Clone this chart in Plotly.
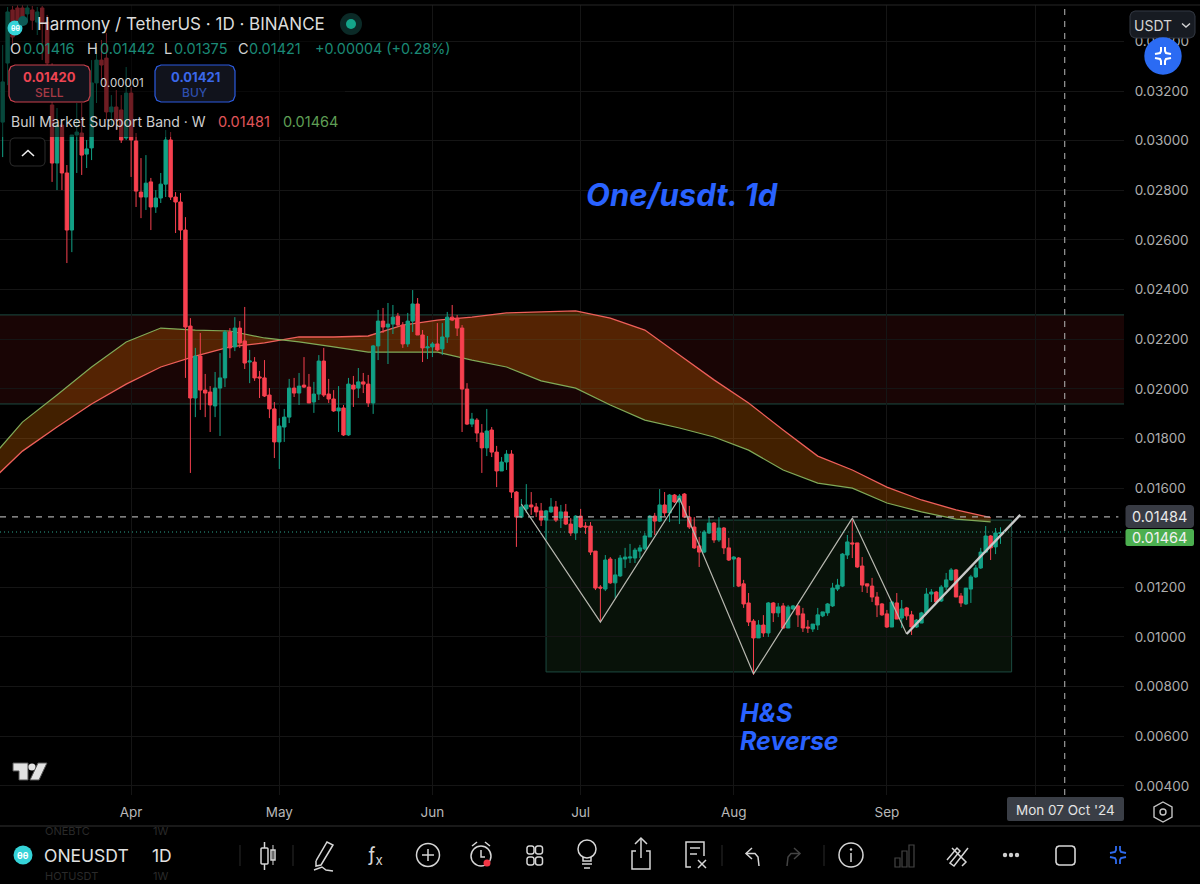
import numpy as np
import pandas as pd
import plotly.graph_objects as go

# prices, in units of 0.00001
opens_e5 = [
    3075,3313,3527,3535,3535,3511,3527,3478,3535,3478,
    3144,2910,3063,2870,2640,3023,3031,2946,2971,3233,
    3325,3333,3116,3136,3124,3011,3192,2999,2793,2773,
    2834,2733,2769,2825,3003,2773,2753,2640,2253,1963,
    2132,1995,1987,1931,2003,2044,2229,2169,2245,2193,
    2108,2108,2048,2044,1975,1919,1786,1846,1886,2003,
    1983,2015,2007,1947,1979,2112,1979,1959,1911,1923,
    1814,2015,2003,2028,2019,1943,2173,2273,2249,2261,
    2293,2257,2181,2273,2342,2217,2165,2169,2181,2161,
    2209,2289,2285,2245,1999,1858,1874,1822,1762,1834,
    1745,1669,1705,1737,1584,1483,1516,1532,1524,1508,
    1471,1504,1524,1479,1504,1455,1419,1487,1447,1447,
    1346,1201,1193,1314,1218,1246,1314,1318,1318,1346,
    1355,1403,1487,1467,1532,1500,1572,1544,1576,1483,
    1443,1367,1342,1419,1459,1391,1439,1359,1314,1318,
    1214,1137,1064,996,1048,1016,1137,1097,1125,1036,
    1113,1125,1093,1040,1032,1048,1085,1097,1125,1193,
    1205,1330,1379,1379,1286,1214,1205,1161,1133,1093,
    1040,1137,1076,1117,1089,1040,1056,1097,1173,1181,
    1145,1201,1230,1270,1165,1133,1193,1242,1278,1342,
    1407,1363,1416]
highs_e5 = [
    3386,3539,3543,3547,3547,3547,3543,3539,3543,3507,
    3313,3132,3075,2902,3023,3152,3152,3003,3325,3378,
    3406,3434,3184,3204,3184,3297,3216,3031,2930,2942,
    2850,2801,2870,3043,3035,2793,2789,2692,2285,2165,
    2225,2060,2011,2068,2144,2237,2245,2289,2273,2330,
    2157,2128,2072,2116,2003,1947,1882,1919,2040,2044,
    2064,2128,2060,2028,2136,2165,2040,1995,2011,1935,
    2044,2052,2084,2064,2056,2177,2318,2326,2346,2338,
    2306,2269,2306,2398,2366,2237,2213,2189,2265,2265,
    2310,2338,2298,2257,2023,1903,1882,1858,1919,1846,
    1770,1725,1753,1753,1588,1556,1616,1584,1540,1540,
    1512,1560,1548,1532,1536,1479,1491,1516,1463,1463,
    1346,1209,1330,1322,1314,1330,1359,1375,1359,1371,
    1419,1491,1500,1596,1584,1576,1576,1576,1580,1528,
    1483,1403,1431,1483,1463,1483,1443,1399,1326,1322,
    1230,1177,1072,1068,1088,1141,1141,1137,1137,1129,
    1129,1129,1117,1068,1052,1117,1101,1137,1218,1234,
    1338,1411,1471,1379,1322,1214,1238,1181,1137,1109,
    1145,1177,1149,1121,1105,1072,1101,1197,1193,1185,
    1209,1258,1278,1274,1177,1197,1250,1290,1359,1447,
    1411,1439,1442]
lows_e5 = [
    2934,3224,3357,3454,3462,3478,3446,3426,3325,3224,
    2834,2801,2801,2507,2551,2870,2862,2890,2922,3152,
    3245,3083,3063,3043,2991,3003,2854,2733,2688,2721,
    2640,2709,2749,2773,2761,2628,2600,2044,1661,1886,
    1915,1886,1826,1886,1810,2007,2124,2152,2165,2080,
    2023,2032,1963,1967,1882,1721,1677,1786,1862,1967,
    1935,2003,1943,1903,1955,1967,1943,1907,1826,1810,
    1810,1927,1963,1983,1927,1899,2116,2225,2100,2221,
    2253,2165,2169,2229,2217,2108,2120,2128,2152,2136,
    2185,2273,2213,1826,1854,1846,1786,1661,1729,1725,
    1604,1669,1673,1560,1363,1479,1500,1492,1483,1447,
    1391,1500,1463,1439,1451,1407,1391,1439,1415,1330,
    1189,1060,1185,1214,1157,1242,1278,1298,1298,1318,
    1350,1403,1411,1463,1487,1463,1540,1455,1479,1435,
    1355,1282,1338,1415,1379,1383,1334,1306,1201,1201,
    1117,1044,847,996,1000,1000,1060,1080,1032,1036,
    1109,1040,1020,1016,1020,1028,1080,1085,1121,1185,
    1201,1314,1318,1278,1181,1177,1141,1080,1085,1036,
    1040,1072,1036,1068,1008,1036,1056,1089,1141,1137,
    1141,1189,1226,1161,1121,1129,1137,1238,1274,1338,
    1310,1334,1375]
closes_e5 = [
    3237,3519,3418,3486,3494,3535,3486,3519,3478,3313,
    2910,3063,2870,2640,3023,3035,2942,2967,3233,3325,
    3305,3116,3136,3083,3003,3192,3003,2797,2773,2829,
    2733,2769,2825,3003,2773,2753,2640,2249,1963,2132,
    1995,1983,1935,2003,2044,2229,2165,2245,2185,2104,
    2112,2044,2044,1971,1919,1786,1850,1886,2003,1983,
    2011,2007,1943,1979,2112,1975,1959,1911,1923,1814,
    2019,1999,2028,2019,1943,2173,2273,2249,2261,2289,
    2257,2181,2273,2342,2217,2165,2169,2181,2157,2209,
    2289,2277,2245,1999,1858,1878,1822,1762,1830,1745,
    1669,1705,1737,1584,1483,1524,1532,1524,1504,1471,
    1508,1524,1471,1504,1455,1419,1487,1443,1443,1342,
    1197,1197,1310,1218,1250,1318,1322,1322,1350,1359,
    1407,1487,1467,1532,1500,1572,1544,1568,1483,1443,
    1359,1342,1423,1459,1391,1439,1359,1310,1322,1205,
    1133,1060,996,1048,1016,1137,1097,1121,1036,1121,
    1125,1089,1036,1036,1052,1089,1101,1133,1197,1209,
    1334,1383,1375,1282,1209,1205,1161,1129,1089,1040,
    1141,1072,1113,1085,1040,1068,1097,1173,1181,1141,
    1201,1230,1270,1161,1137,1197,1242,1278,1342,1407,
    1359,1419,1421]

# weekly support band
band_upper_e5 = [1616,1749,1846,1939,2019,2088,2132,2169,2185,2209,2209,2213,2257,2277,2289,
                 2306,2310,2314,2285,2237,2136,2036,1943,1834,1729,1673,1604,1552,1512,1481]
band_lower_e5 = [1705,1866,1975,2088,2189,2245,2237,2233,2205,2189,2169,2148,2148,2148,2116,
                 2088,2032,2003,1935,1874,1842,1806,1753,1673,1620,1600,1540,1504,1475,1464]

# head and shoulders drawing
pattern_dates = ["2024-06-19", "2024-07-05", "2024-07-21", "2024-08-05", "2024-08-25", "2024-09-05"]
pattern_prices = [0.01536, 0.01060, 0.01560, 0.00851, 0.01479, 0.01012]
neck_dates = ["2024-09-05", "2024-09-28"]
neck_prices = [0.01012, 0.01492]

zone_top, zone_bottom = 0.02298, 0.01939
box_start, box_end = "2024-06-24", "2024-09-26 06:00"
box_top, box_bottom = 0.01471, 0.00859
cross_price, cross_date = 0.01484, "2024-10-07"
last_price = 0.01423

price_ticks = [0.004, 0.006, 0.008, 0.010, 0.012, 0.016, 0.018, 0.020, 0.022,
               0.024, 0.026, 0.028, 0.030, 0.032, 0.034]
price_labels = ["0.00400", "0.00600", "0.00800", "0.01000", "0.01200", "0.01600", "0.01800",
                "0.02000", "0.02200", "0.02400", "0.02600", "0.02800", "0.03000", "0.03200", "0.03400"]
month_ticks = ["2024-04-01", "2024-05-01", "2024-06-01", "2024-07-01", "2024-08-01", "2024-09-01"]
month_labels = ["Apr", "May", "Jun", "Jul", "Aug", "Sep"]
# grid lines whose labels sit behind the tags
hidden_price_grid = [0.014]
hidden_month_grid = ["2024-10-01"]

dates = pd.date_range("2024-03-06", periods=len(opens_e5), freq="D")
band_dates = pd.date_range("2024-03-03", periods=len(band_upper_e5), freq="7D")

W, H = 1200, 884
L, R, T, B = 0, 76, 5, 89
Y_RANGE = [0.00363, 0.03547]
X_RANGE = ["2024-03-05 11:00", "2024-10-19 00:00"]

RED = "#f7404f"
GREEN = "#12a085"
BLUE = "#2962ff"
ICON = "#d6d6d6"
GRID = "#151515"
FONT = "Inter"

shapes = []
annots = []


def fx(px):
    return (px - L) / (W - L - R)


def fy(py):
    return (H - B - py) / (H - T - B)


def poly(pts, color=ICON, w=1.5, fill=None, close=False):
    d = "M" + " L".join(f"{fx(x):.5f} {fy(y):.5f}" for x, y in pts) + (" Z" if close else "")
    shapes.append(dict(type="path", path=d, xref="paper", yref="paper",
                       line=dict(color=color, width=w), fillcolor=fill or "rgba(0,0,0,0)"))


def box(x0, y0, x1, y1, fill=None, color=None, w=1, r=0):
    if r:
        c = r * 0.3
        pts = [(x0 + r, y0), (x1 - r, y0), (x1 - c, y0 + c), (x1, y0 + r), (x1, y1 - r), (x1 - c, y1 - c),
               (x1 - r, y1), (x0 + r, y1), (x0 + c, y1 - c), (x0, y1 - r), (x0, y0 + r), (x0 + c, y0 + c)]
        poly(pts, color or "rgba(0,0,0,0)", w if color else 0, fill, True)
    else:
        shapes.append(dict(type="rect", xref="paper", yref="paper", x0=fx(x0), x1=fx(x1), y0=fy(y0), y1=fy(y1),
                           fillcolor=fill or "rgba(0,0,0,0)", line=dict(color=color or "rgba(0,0,0,0)", width=w if color else 0)))


def dot(cx, cy, r, fill=None, color=None, w=1.5):
    shapes.append(dict(type="circle", xref="paper", yref="paper", x0=fx(cx - r), x1=fx(cx + r), y0=fy(cy - r), y1=fy(cy + r),
                       fillcolor=fill or "rgba(0,0,0,0)", line=dict(color=color or "rgba(0,0,0,0)", width=w if color else 0)))


def label(x, y, s, size, color, anchor="left", weight=400, style="normal"):
    annots.append(dict(x=fx(x), y=fy(y), xref="paper", yref="paper", text=s, showarrow=False, xanchor=anchor, yanchor="middle",
                       borderpad=0, font=dict(family=FONT, size=size, color=color, weight=weight, style=style)))


def corners(cx, cy, color, w=2):
    for sx in (-1, 1):
        for sy in (-1, 1):
            poly([(cx + sx * 2, cy + sy * 9), (cx + sx * 2, cy + sy * 5), (cx + sx * 3, cy + sy * 3), (cx + sx * 8, cy + sy * 2)], color, w)


# dimmed backdrop behind the legend block, then the frame lines
box(0, 5, 345, 137, fill="rgba(0,0,0,0.55)")
poly([(0, 5), (1200, 5)], "#262626", 1)
poly([(0, 826), (1200, 826)], "#333333", 1.2)

# legend block
dot(15, 28, 7.5, fill="#35d3d8")
label(15, 28, "θθ", 7, "#ffffff", "center", 700)
dot(23, 21, 5, fill="#0d5a55")
label(36, 24, "Harmony / TetherUS · 1D · BINANCE", 17, "#dcdcdc")
dot(351, 24, 11, fill="#0b2a27")
dot(351, 24, 5, fill="#14a58a")
val_color = "#1b8a76"
head_color = "#d2d2d2"
for hx, head, vx, val in ((9, "O", 22, "0.01416"), (86, "H", 99, "0.01442"), (163, "L", 173, "0.01375"), (237, "C", 248, "0.01421")):
    label(hx, 49, head, 14.5, head_color)
    label(vx, 49, val, 14.5, val_color)
label(314, 49, "+0.00004 (+0.28%)", 14.3, val_color)
box(9, 65, 90, 102, fill="#11131c", color="#c9404c", w=1.2, r=6)
label(49.5, 77, "0.01420", 13, "#ee4452", "center", 700)
label(49.5, 92, "SELL", 12, "#a63a45", "center", 500)
label(122, 83, "0.00001", 11.5, "#d4d4d4", "center")
box(155, 65, 235, 102, fill="#11131c", color="#2c5be0", w=1.2, r=6)
label(195, 77, "0.01421", 13, "#3a68ea", "center", 700)
label(195, 92, "BUY", 12, "#2e4fae", "center", 500)
label(10, 121, "Bull Market Support Band · W", 14, "#cfcfcf")
label(217, 121, "0.01481", 14.5, "#e0555a")
label(282, 121, "0.01464", 14.5, "#5f9e55")
box(10, 138, 45, 166, fill="#000000", color="#2c2c2c", w=1, r=4)
poly([(22, 156), (28, 150.5), (34, 156)], "#eeeeee", 1.6)

# headline notes on the chart
label(585, 194, "One/usdt. 1d", 31, BLUE, "left", 700, "italic")
label(739, 713, "H&S", 25, BLUE, "left", 700, "italic")
label(739, 741, "Reverse", 25, BLUE, "left", 700, "italic")

# TradingView mark
poly([(13, 763), (28, 763), (28, 780), (19, 780), (19, 771), (13, 771)], "#555555", 1, "#e2e2e2", True)
dot(32, 767, 3.6, fill="#e2e2e2")
poly([(38, 763), (47, 763), (39, 780), (30, 780)], "#555555", 1, "#e2e2e2", True)

# top right controls
box(1130, 11, 1195, 38, fill="#171b22", color="#343a44", w=1, r=5)
label(1133, 25, "USDT", 14, "#d4d4d4")
poly([(1182, 23.5), (1186, 27), (1190, 23.5)], "#d4d4d4", 1.4)
dot(1163, 56, 18.7, fill="#2b6bf3")
corners(1163, 56, "#ffffff", 2)

# price tags and date tag
box(1125.5, 505, 1194, 528, fill="#383b44", r=3)
label(1159.5, 516.5, "0.01484", 14.5, "#e8e8e8", "center")
box(1125.5, 529, 1194, 546, fill="#4caf50", r=2)
label(1159.5, 537.5, "0.01464", 14.5, "#f2f2f2", "center")
box(1007, 797, 1124, 821, fill="#3a3e46", r=2)
label(1065.5, 810, "Mon 07 Oct '24", 13.5, "#e4e4e4", "center")
poly([(1163, 802), (1172, 807), (1172, 817), (1163, 822), (1154, 817), (1154, 807)], "#c4c4c4", 1.4, None, True)
dot(1163, 812, 3, color="#c4c4c4", w=1.4)

# bottom toolbar
label(44, 831, "ONEBTC", 11, "#2a2a2a")
label(152, 831, "1W", 11, "#2a2a2a")
label(44, 876, "HOTUSDT", 11, "#2a2a2a")
label(152, 876, "1W", 11, "#2a2a2a")
dot(23, 855, 9.5, fill="#35d3d8")
label(23, 855, "θθ", 9, "#ffffff", "center", 700)
label(43, 855, "ONEUSDT", 17.5, "#e2e2e2")
label(151, 855, "1D", 17.5, "#e2e2e2")
for sx in (240, 293, 722, 824):
    poly([(sx, 845), (sx, 866)], "#2a2a2a", 1)
# candle
box(261, 848, 268, 864, color=ICON, w=1.5, r=1)
poly([(264.5, 842), (264.5, 848)], ICON)
poly([(264.5, 864), (264.5, 870)], ICON)
box(271, 850, 275, 860, color=ICON, w=1.5)
poly([(273, 845), (273, 865)], ICON, 1)
# pen
poly([(316, 861), (327, 842), (333, 845), (321, 865), (316, 866), (316, 861)], ICON)
poly([(314, 870), (322, 867), (326, 870), (333, 871)], ICON)
label(375, 855, "ƒ<sub>x</sub>", 19, ICON, "center")
# plus
dot(428, 855, 11.5, color=ICON)
poly([(422, 855), (434, 855)], ICON)
poly([(428, 849), (428, 861)], ICON)
# alarm
dot(481, 856, 10, color=ICON)
poly([(481, 850), (481, 857), (485, 857)], ICON)
poly([(472, 846), (477, 842)], ICON)
poly([(490, 846), (485, 842)], ICON)
dot(487, 863, 3.5, fill="#f23645")
# widgets
for gx in (527, 535.5):
    for gy in (846, 857):
        box(gx, gy, gx + 7, gy + 8, color=ICON, w=1.5, r=2)
# bulb
dot(587, 849, 9, color=ICON)
poly([(583, 857), (583, 861), (591, 861), (591, 857)], ICON)
poly([(582, 864), (592, 864)], ICON)
poly([(584, 868), (590, 868)], ICON)
# share
poly([(636, 851), (632, 851), (632, 869), (650, 869), (650, 851), (646, 851)], ICON)
poly([(641, 838), (641, 858)], ICON)
poly([(635, 844), (641, 838), (647, 844)], ICON)
# report
poly([(691, 867), (686, 867), (686, 842), (704, 842), (704, 856)], ICON)
poly([(690, 848), (700, 848)], ICON)
poly([(690, 854), (697, 854)], ICON)
poly([(698, 860), (706, 868)], ICON)
poly([(706, 860), (698, 868)], ICON)
# undo and redo
poly([(752, 848), (746, 853.5), (752, 859)], ICON)
poly([(746, 853.5), (755, 853.5), (758, 857), (759, 866)], ICON)
poly([(794, 848), (800, 853.5), (794, 859)], "#444444")
poly([(800, 853.5), (791, 853.5), (788, 857), (787, 866)], "#444444")
# info
dot(851, 855, 12, color=ICON)
dot(851, 849.5, 1.2, fill=ICON)
poly([(851, 853), (851, 862)], ICON)
# bars
for bx, by in ((895, 858), (902, 851), (909, 845)):
    box(bx, by, bx + 5, 867, color="#444444", w=1.2)
# patterns
poly([(947, 860), (957, 848), (960, 851), (950, 863), (954, 866), (968, 848)], ICON, 1.5)
poly([(952, 848), (966, 862), (962, 866)], ICON, 1.5)
for dx in (1005, 1011, 1017):
    dot(dx, 855, 2.2, fill="#cfcfcf")
box(1056, 846, 1075, 865, color=ICON, w=1.6, r=3)
corners(1118, 855, "#2f6bf0", 1.8)

e5 = lambda a: np.array(a) / 1e5

fig = go.Figure()
fig.add_trace(go.Scatter(x=band_dates, y=e5(band_upper_e5), mode="lines", line=dict(color="#ee5f5a", width=1.3), hoverinfo="skip"))
fig.add_trace(go.Scatter(x=band_dates, y=e5(band_lower_e5), mode="lines", line=dict(color="#80aa58", width=1.2),
                         fill="tonexty", fillcolor="rgba(255,125,0,0.26)", hoverinfo="skip"))
fig.add_trace(go.Candlestick(x=dates, open=e5(opens_e5), high=e5(highs_e5), low=e5(lows_e5), close=e5(closes_e5), yaxis="y2",
                             increasing=dict(line=dict(color=GREEN, width=1), fillcolor=GREEN),
                             decreasing=dict(line=dict(color=RED, width=1), fillcolor=RED),
                             whiskerwidth=0))
fig.add_trace(go.Scatter(x=pattern_dates, y=pattern_prices, mode="lines", yaxis="y3", line=dict(color="#b8b8b0", width=1.2), hoverinfo="skip"))
fig.add_trace(go.Scatter(x=neck_dates, y=neck_prices, mode="lines", yaxis="y3", line=dict(color="#c9c9c9", width=2.4), hoverinfo="skip"))

# zones behind the candles
zone_edge = "#1c4a40"
fig.add_shape(type="rect", xref="paper", yref="y", x0=0, x1=1, y0=zone_bottom, y1=zone_top, layer="below",
              fillcolor="rgba(190,40,40,0.13)", line=dict(width=0))
for zy in (zone_top, zone_bottom):
    fig.add_shape(type="line", xref="paper", yref="y", x0=0, x1=1, y0=zy, y1=zy, layer="below", line=dict(color=zone_edge, width=1))
fig.add_shape(type="rect", xref="x", yref="y", x0=box_start, x1=box_end, y0=box_bottom, y1=box_top, layer="below",
              fillcolor="rgba(60,140,70,0.13)", line=dict(color=zone_edge, width=1))

# crosshair and last price line
fig.add_shape(type="line", xref="paper", yref="y", x0=0, x1=0.995, y0=cross_price, y1=cross_price,
              line=dict(color="#a8a8a8", width=1.1, dash="6px,6px"))
fig.add_shape(type="line", xref="x", yref="paper", x0=cross_date, x1=cross_date, y0=0, y1=1,
              line=dict(color="#a8a8a8", width=1.1, dash="6px,6px"))
fig.add_shape(type="line", xref="paper", yref="y", x0=0, x1=1, y0=last_price, y1=last_price,
              line=dict(color="#2fa58e", width=1, dash="1px,3px"))

for s in shapes:
    fig.add_shape(**s)

fig.update_layout(
    width=W, height=H, autosize=False, showlegend=False, dragmode=False,
    margin=dict(l=L, r=R, t=T, b=B), paper_bgcolor="#000000", plot_bgcolor="#000000",
    boxgap=0.02, annotations=annots, font=dict(family=FONT, color="#b4b4b4"),
    xaxis=dict(type="date", range=X_RANGE, rangeslider=dict(visible=False), tickmode="array", tickvals=month_ticks, ticktext=month_labels,
               showgrid=True, gridcolor=GRID, gridwidth=1, zeroline=False, showline=False, ticks="outside", ticklen=5,
               tickcolor="rgba(0,0,0,0)", tickfont=dict(family=FONT, size=13.5, color="#b8b8b8"),
               minor=dict(tickmode="array", tickvals=hidden_month_grid, showgrid=True, gridcolor=GRID, gridwidth=1, ticks="")),
    yaxis=dict(side="right", range=Y_RANGE, tickmode="array", tickvals=price_ticks, ticktext=price_labels, showgrid=True,
               gridcolor=GRID, gridwidth=1, zeroline=False, showline=False, ticks="outside", ticklen=7,
               tickcolor="rgba(0,0,0,0)", tickfont=dict(family=FONT, size=13.5, color="#aeaeae"),
               minor=dict(tickmode="array", tickvals=hidden_price_grid, showgrid=True, gridcolor=GRID, gridwidth=1, ticks="")),
    yaxis2=dict(overlaying="y", side="right", range=Y_RANGE, visible=False),
    yaxis3=dict(overlaying="y", side="right", range=Y_RANGE, visible=False),
)

fig.write_html("out.html", config=dict(displayModeBar=False),
               post_script="document.body.style.margin='0';document.body.style.background='#000';document.body.style.overflow='hidden';")
